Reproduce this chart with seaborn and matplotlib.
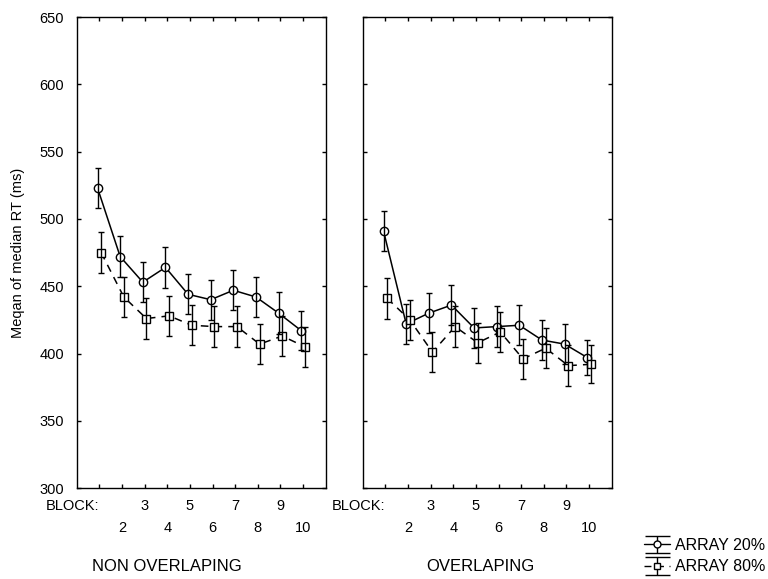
import numpy as np
import pandas as pd
import matplotlib
matplotlib.use("Agg")
import matplotlib.pyplot as plt
import seaborn as sns
from matplotlib.legend_handler import HandlerErrorbar

# --- data ---
blocks = list(range(1, 11))
panels = ["NON OVERLAPING", "OVERLAPING"]
arrays = ["ARRAY 20%", "ARRAY 80%"]

non_ovl_20 = [523, 472, 453, 464, 444, 440, 447, 442, 430, 417]
non_ovl_20_err = [15, 15, 15, 15, 15, 15, 15, 15, 15.5, 14.5]
non_ovl_80 = [475, 442, 426, 428, 421, 420, 420, 407, 413, 405]
non_ovl_80_err = [15, 15, 15, 15, 15, 15, 15, 15, 15, 15]
ovl_20 = [491, 422, 430, 436, 419, 420, 421, 410, 407, 397]
ovl_20_err = [15, 15, 15, 15, 15, 15, 15, 15, 15, 13]
ovl_80 = [441, 425, 401, 420, 408, 416, 396, 404, 391, 392]
ovl_80_err = [15, 15, 15, 15, 15, 15, 15, 15, 15, 14]

rows = []
for panel, arr, vals, errs in [
    (panels[0], arrays[0], non_ovl_20, non_ovl_20_err),
    (panels[0], arrays[1], non_ovl_80, non_ovl_80_err),
    (panels[1], arrays[0], ovl_20, ovl_20_err),
    (panels[1], arrays[1], ovl_80, ovl_80_err),
]:
    for b, v, e in zip(blocks, vals, errs):
        rows.append({"panel": panel, "array": arr, "block": b, "rt": v, "err": e})
df = pd.DataFrame(rows)

sns.set_style("ticks")
plt.rcParams["font.family"] = ["Liberation Sans", "DejaVu Sans"]
plt.rcParams["font.size"] = 10
plt.rcParams["text.color"] = "black"
plt.rcParams["axes.labelcolor"] = "black"

fig = plt.figure(figsize=(7.68, 5.79), dpi=100)
ax1 = fig.add_axes([0.0999, 0.157, 0.3242, 0.8135])
ax2 = fig.add_axes([0.4723, 0.157, 0.3242, 0.8135])

styles = {
    "ARRAY 20%": dict(marker="o", ls="-", off=-0.08),
    "ARRAY 80%": dict(marker="s", ls=(0, (5, 4)), off=0.08),
}
title_x = [0.363, 0.471]

for ax, panel, tx in zip([ax1, ax2], panels, title_x):
    d = df[df["panel"] == panel]
    for arr in arrays:
        s = styles[arr]
        sub = d[d["array"] == arr]
        x = sub["block"] + s["off"]
        sns.lineplot(x=x, y=sub["rt"], ax=ax, color="black", marker=s["marker"],
                     markersize=6, markerfacecolor="white", markeredgecolor="black",
                     markeredgewidth=1, linestyle=s["ls"], linewidth=1.1,
                     errorbar=None, sort=False)
        ax.errorbar(x, sub["rt"], yerr=sub["err"], fmt="none", ecolor="black",
                    elinewidth=1, capsize=2, capthick=1, zorder=3)

    ax.set_xlim(0, 11)
    ax.set_ylim(300, 650)
    ax.set_yticks(range(300, 651, 50))
    ax.set_xticks([1, 3, 5, 7, 9])
    ax.set_xticklabels(["BLOCK:", "3", "5", "7", "9"])
    ax.set_xticks([2, 4, 6, 8, 10], minor=True)
    ax.set_xticklabels(["2", "4", "6", "8", "10"], minor=True)
    ax.get_xticklabels()[0].set_horizontalalignment("right")
    ax.tick_params(axis="both", which="both", direction="in", length=3, width=1,
                   top=True, right=True, labelsize=10.5, colors="black")
    ax.tick_params(axis="x", which="major", pad=8)
    ax.tick_params(axis="x", which="minor", pad=24)
    ax.tick_params(axis="y", pad=9)
    for sp in ax.spines.values():
        sp.set_linewidth(1)
        sp.set_color("black")
    ax.set_xlabel(panel, fontsize=12, va="center", color="black")
    ax.xaxis.set_label_coords(tx, -0.166)
    ax.set_ylabel("")

ax1.set_ylabel("Meqan of median RT (ms)", fontsize=10.5, va="center", color="black")
ax1.yaxis.set_label_coords(-0.236, 0.5)
ax2.tick_params(axis="y", labelleft=False)

# legend proxies (errorbar glyphs)
handles = []
for arr in arrays:
    s = styles[arr]
    h = ax2.errorbar([np.nan], [np.nan], yerr=[1], color="black", marker=s["marker"],
                     markersize=5, markerfacecolor="white", linestyle=s["ls"],
                     linewidth=1, capsize=9, capthick=1, elinewidth=1)
    handles.append(h)
fig.legend(handles, arrays, loc="lower right", bbox_to_anchor=(765 / 768, 0.008),
           frameon=False, fontsize=11.5, handlelength=1.6, handletextpad=0.3,
           labelspacing=0.4, borderpad=0, borderaxespad=0,
           handler_map={type(handles[0]): HandlerErrorbar(yerr_size=0.55)})

fig.savefig("out.png", dpi=100)
